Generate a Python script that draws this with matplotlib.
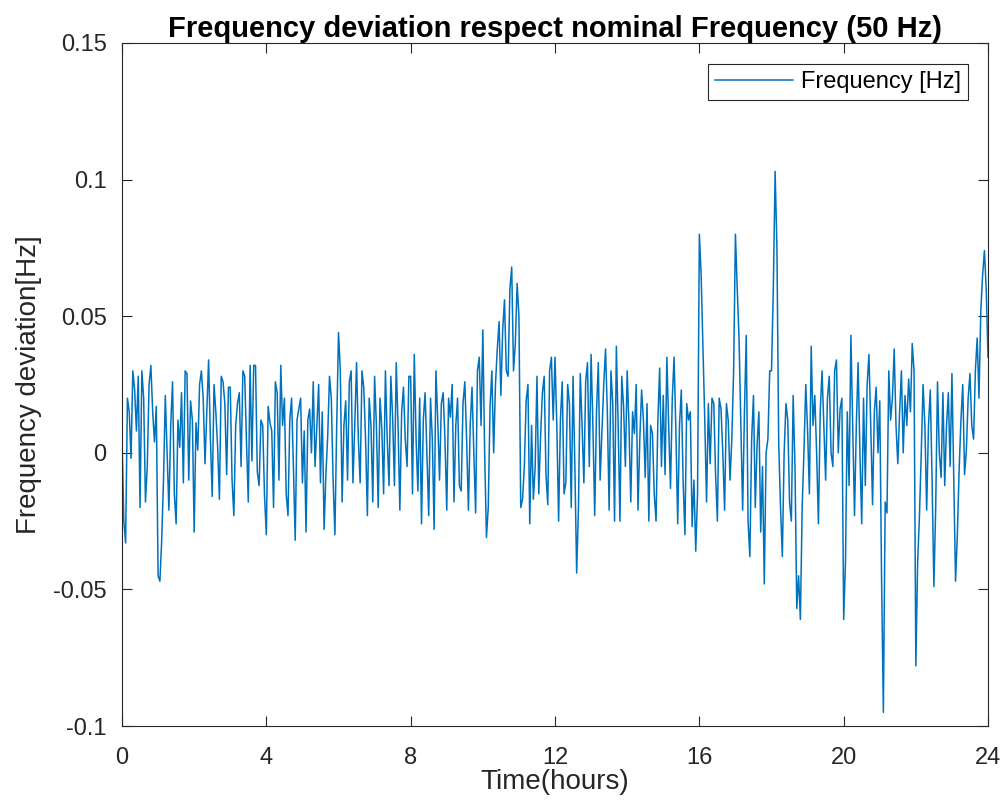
import numpy as np
import matplotlib.pyplot as plt

plt.rcParams['font.family'] = ['Liberation Sans', 'DejaVu Sans']

# frequency deviation
# hNN: samples at NN.0, NN.1 ... NN.9 hours
h00 = [0.006, -0.033, 0.015, 0.030, 0.008, -0.020, 0.020, -0.005, 0.032, 0.004]
h01 = [-0.045, -0.032, 0.021, -0.021, 0.026, -0.026, 0.002, -0.011, 0.029, 0.019]
h02 = [-0.029, 0.001, 0.030, -0.004, 0.034, -0.016, 0.015, -0.017, 0.026, -0.008]
h03 = [0.024, -0.023, 0.018, -0.005, 0.028, -0.018, -0.003, 0.032, -0.012, 0.010]
h04 = [-0.030, 0.011, -0.020, 0.022, 0.032, 0.020, -0.023, 0.020, -0.032, 0.016]
h05 = [-0.011, -0.029, 0.016, 0.026, 0.010, -0.011, -0.028, 0.006, 0.020, -0.030]
h06 = [0.044, -0.018, 0.019, 0.026, -0.011, 0.033, -0.011, 0.024, -0.023, 0.010]
h07 = [0.028, -0.020, 0.009, 0.030, -0.012, 0.013, 0.033, -0.021, 0.024, -0.005]
h08 = [0.028, 0.036, -0.014, -0.026, 0.022, -0.023, 0.005, 0.030, -0.010, 0.022]
h09 = [-0.021, 0.013, -0.018, 0.020, -0.014, 0.026, -0.021, 0.024, -0.022, 0.035]
h10 = [0.045, -0.031, 0.017, 0.000, 0.038, 0.021, 0.056, 0.028, 0.068, 0.040]
h11 = [0.050, -0.017, 0.019, -0.026, -0.017, 0.028, 0.006, 0.028, -0.019, 0.035]
h12 = [0.035, -0.025, 0.026, -0.011, 0.018, 0.028, -0.044, 0.029, -0.011, 0.033]
h13 = [0.036, -0.023, 0.033, 0.007, 0.038, -0.021, 0.018, 0.039, -0.025, 0.017]
h14 = [0.030, -0.018, 0.007, -0.021, 0.023, -0.009, -0.025, 0.007, -0.025, 0.031]
h15 = [0.021, 0.035, -0.013, 0.035, -0.026, 0.023, -0.030, 0.012, -0.027, -0.036]
h16 = [0.080, 0.039, -0.018, -0.004, 0.018, -0.025, 0.016, -0.021, 0.012, 0.005]
h17 = [0.080, 0.042, -0.021, 0.043, -0.038, 0.021, 0.003, -0.029, -0.048, 0.005]
h18 = [0.030, 0.103, 0.003, -0.038, 0.018, -0.018, 0.021, -0.057, -0.061, 0.001]
h19 = [0.008, 0.039, 0.021, -0.026, 0.030, -0.010, 0.028, -0.005, 0.034, 0.016]
h20 = [-0.061, 0.015, 0.043, -0.023, 0.033, -0.026, -0.012, 0.036, -0.019, 0.024]
h21 = [0.019, -0.095, -0.022, 0.012, 0.038, -0.004, 0.030, 0.021, 0.027, 0.040]
h22 = [-0.078, -0.023, 0.025, -0.021, 0.023, -0.049, 0.026, -0.009, -0.012, 0.022]
h23 = [0.029, -0.047, -0.006, 0.025, 0.001, 0.029, 0.005, 0.042, 0.052, 0.074]
h24 = [0.035]

# mNN: samples at NN.05, NN.15 ... NN.95 hours
m00 = [-0.025, 0.020, -0.002, 0.023, 0.028, 0.030, -0.018, 0.025, 0.015, 0.017]
m01 = [-0.047, -0.010, 0.000, 0.010, -0.015, 0.012, 0.022, 0.030, -0.010, 0.012]
m02 = [0.011, 0.025, 0.020, 0.015, 0.005, 0.025, 0.002, 0.028, 0.018, 0.024]
m03 = [-0.010, 0.010, 0.022, 0.030, 0.004, 0.032, 0.032, -0.007, 0.012, -0.016]
m04 = [0.017, 0.008, 0.026, -0.010, 0.010, -0.015, 0.012, -0.005, 0.012, 0.020]
m05 = [0.008, 0.012, 0.000, -0.005, 0.025, 0.015, -0.008, 0.028, -0.010, 0.010]
m06 = [0.030, 0.010, -0.010, 0.030, 0.010, 0.005, 0.030, 0.005, 0.020, -0.018]
m07 = [0.010, 0.020, -0.015, 0.005, 0.028, -0.012, 0.010, 0.015, 0.005, 0.028]
m08 = [-0.015, 0.005, 0.020, 0.012, 0.000, 0.020, -0.028, 0.012, 0.018, 0.005]
m09 = [0.020, 0.025, 0.010, -0.012, 0.018, 0.005, 0.010, 0.000, 0.030, 0.010]
m10 = [0.000, -0.020, 0.030, 0.025, 0.048, 0.045, 0.030, 0.060, 0.030, 0.062]
m11 = [-0.020, -0.005, 0.025, 0.010, -0.005, -0.015, 0.022, -0.008, 0.030, 0.012]
m12 = [0.010, 0.012, -0.015, 0.025, -0.020, -0.005, -0.020, 0.010, 0.026, -0.005]
m13 = [0.010, 0.015, -0.010, 0.025, 0.015, 0.030, -0.025, 0.010, 0.028, -0.005]
m14 = [0.010, 0.015, 0.025, 0.005, 0.012, 0.018, 0.010, -0.015, 0.012, -0.005]
m15 = [-0.008, 0.010, 0.020, 0.008, 0.010, -0.010, 0.018, 0.015, -0.010, -0.015]
m16 = [0.065, 0.012, 0.018, 0.020, -0.008, 0.020, 0.000, 0.018, -0.010, 0.030]
m17 = [0.060, 0.010, 0.015, -0.025, 0.005, -0.020, 0.015, -0.005, 0.000, 0.030]
m18 = [0.060, 0.075, -0.020, 0.000, 0.012, -0.025, -0.005, -0.045, -0.020, 0.025]
m19 = [-0.015, 0.010, 0.000, 0.015, 0.010, 0.020, 0.000, 0.030, 0.000, 0.020]
m20 = [-0.040, -0.012, 0.010, 0.010, 0.000, 0.020, 0.025, 0.010, 0.015, 0.000]
m21 = [-0.046, -0.018, 0.030, 0.020, 0.010, 0.015, 0.000, 0.010, 0.015, 0.030]
m22 = [-0.040, 0.000, 0.010, 0.010, -0.010, -0.020, 0.000, 0.022, 0.010, -0.005]
m23 = [-0.010, -0.030, 0.012, -0.008, 0.020, 0.010, 0.030, 0.020, 0.065, 0.060]

dev_a = (h00 + h01 + h02 + h03 + h04 + h05 + h06 + h07 + h08 + h09 + h10 + h11
         + h12 + h13 + h14 + h15 + h16 + h17 + h18 + h19 + h20 + h21 + h22 + h23 + h24)
dev_b = (m00 + m01 + m02 + m03 + m04 + m05 + m06 + m07 + m08 + m09 + m10 + m11
         + m12 + m13 + m14 + m15 + m16 + m17 + m18 + m19 + m20 + m21 + m22 + m23)

t_a = np.arange(len(dev_a)) / 10.0
t_b = np.arange(len(dev_b)) / 10.0 + 0.05
hours = np.concatenate([t_a, t_b])
deviation = np.concatenate([dev_a, dev_b])
order = np.argsort(hours)
hours = hours[order]
deviation = deviation[order]

xticks = [0, 4, 8, 12, 16, 20, 24]
yticks = [-0.1, -0.05, 0, 0.05, 0.1, 0.15]
yticklabels = ['-0.1', '-0.05', '0', '0.05', '0.1', '0.15']

fig = plt.figure(figsize=(10.05, 8.11), dpi=100)
ax = fig.add_axes([0.1214, 0.1048, 0.8617, 0.8422])

ax.plot(hours, deviation, color='#0072BD', linewidth=1.1, label='Frequency [Hz]')

ax.set_xlim(0, 24)
ax.set_ylim(-0.1, 0.15)
ax.set_xticks(xticks)
ax.set_yticks(yticks)
ax.set_yticklabels(yticklabels)
ax.tick_params(direction='in', top=True, right=True, labelsize=17, length=7,
               width=0.8, colors='#262626')
ax.tick_params(axis='x', pad=15)
ax.tick_params(axis='y', pad=11)
for s in ax.spines.values():
    s.set_color('#262626')
    s.set_linewidth(0.8)

ax.set_title('Frequency deviation respect nominal Frequency (50 Hz)',
             fontsize=21, fontweight='bold', pad=4)
ax.set_xlabel('Time(hours)', fontsize=20, color='#262626', labelpad=0)
ax.set_ylabel('Frequency deviation[Hz]', fontsize=20, color='#262626', labelpad=8)

leg = ax.legend(loc='upper right', fontsize=17, fancybox=False, framealpha=1,
                edgecolor='#262626', handlelength=3.3, handletextpad=0.35,
                borderpad=0.3, borderaxespad=0, bbox_to_anchor=(0.977, 0.969))
leg.get_frame().set_linewidth(0.8)

fig.savefig('out.png', dpi=100)
